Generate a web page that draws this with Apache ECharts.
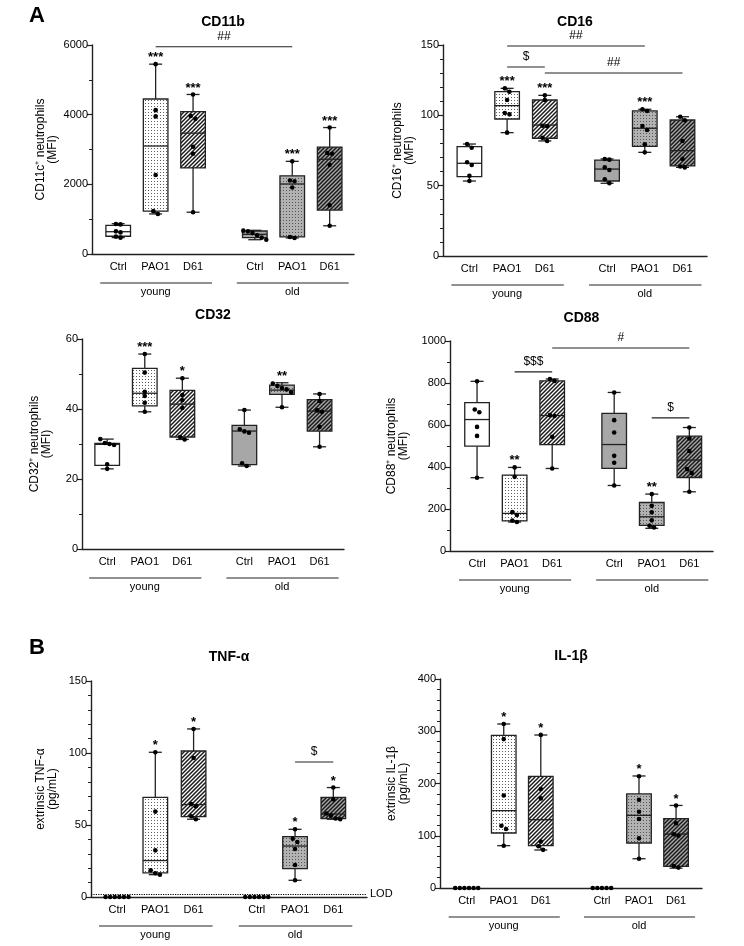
<!DOCTYPE html>
<html>
<head>
<meta charset="utf-8">
<script src="https://cdn.jsdelivr.net/npm/echarts/dist/echarts.min.js"></script>
<style>
  html, body { margin: 0; padding: 0; background: #fff; }
  #chart { width: 744px; height: 946px; }
</style>
</head>
<body>
<div id="chart"></div>
<script>
// ============================================================
// Data
// ============================================================
const treatments = ['Ctrl', 'PAO1', 'D61'];
const ageGroups = ['young', 'old'];
// x position of each box: young Ctrl/PAO1/D61, old Ctrl/PAO1/D61
const catPos = [1, 2, 3, 4.65, 5.65, 6.65];

// box stats: [min, q1, median, q3, max]; null = all below LOD (no box)
const cd11bBoxes = [[470, 510, 640, 820, 870], [1150, 1230, 3100, 4450, 5450], [1200, 2470, 3470, 4090, 4580],
                    [410, 470, 565, 660, 680], [460, 490, 2010, 2245, 2660], [810, 1260, 2720, 3070, 3630]];
const cd11bPoints = [[860, 850, 650, 620, 500, 470], [5450, 4130, 3950, 2270, 1230, 1150], [4580, 3960, 3880, 3080, 2880, 1200],
                     [670, 650, 600, 540, 470, 410], [2660, 2110, 2090, 1910, 490, 460], [3630, 2900, 2880, 2560, 1400, 810]];
const cd11bStars = ['', '***', '***', '', '***', '***'];
const cd11bBrackets = [[1, 4, 5950, '##']];

const cd16Boxes = [[53.3, 56.4, 65.9, 77.7, 79.6], [87.7, 97.4, 106.9, 116.8, 119.2], [81.8, 83.7, 93.1, 110.9, 114.2],
                   [51.7, 53.3, 61.8, 68.2, 69], [73.7, 78, 90.8, 103.1, 104.3], [63, 64, 74.9, 96.7, 99]];
const cd16Points = [[79.6, 77, 66.6, 64.7, 57.1, 53.3], [119.2, 116.8, 110.9, 101.7, 100.7, 87.7], [114.2, 110.9, 92.6, 92.2, 84, 81.8],
                    [69, 68.5, 63, 61.1, 54.5, 51.7], [104.3, 103.1, 92.4, 89.6, 79.4, 73.7], [99, 96.5, 81.8, 69, 63.6, 63]];
const cd16Stars = ['', '***', '***', '', '***', ''];
const cd16Brackets = [[1, 4, 149.3, '##'], [1, 2, 134.4, '$'], [2, 5, 130.1, '##']];

const cd32Boxes = [[22.9, 23.9, 29.9, 30.2, 31.4], [39.2, 40.9, 44.5, 51.6, 55.7], [31.3, 32.0, 41.4, 45.3, 48.8],
                   [23.7, 24.1, 33.7, 35.3, 39.7], [40.5, 44.2, 45.4, 46.8, 47.5], [29.2, 33.7, 39.4, 42.7, 44.3]];
const cd32Points = [[31.4, 30.3, 30.0, 29.7, 24.2, 22.9], [55.7, 50.4, 44.9, 43.7, 41.8, 39.2], [48.8, 44.0, 42.5, 40.3, 32.0, 31.3],
                    [39.7, 34.2, 33.6, 33.2, 24.5, 23.7], [47.3, 46.6, 46.0, 45.6, 44.8, 40.5], [44.3, 42.3, 39.6, 39.2, 34.9, 29.2]];
const cd32Stars = ['', '***', '*', '', '**', ''];
const cd32Brackets = [];

const cd88Boxes = [[349, 499, 626, 707, 808], [138, 143, 179, 361, 398], [393, 507, 645, 810, 819],
                   [312, 393, 507, 655, 755], [108, 122, 163, 231, 271], [282, 350, 433, 547, 588]];
const cd88Points = [[808, 674, 661, 591, 548, 349], [398, 353, 185, 171, 145, 138], [819, 810, 647, 643, 544, 393],
                    [755, 623, 564, 453, 420, 312], [271, 215, 184, 146, 120, 112], [588, 536, 476, 390, 372, 282]];
const cd88Stars = ['', '**', '', '', '**', ''];
const cd88Brackets = [[1, 2, 853, '$$$'], [2, 5, 967, '#'], [4, 5, 634, '$']];

const tnfBoxes = [null, [15.5, 16.7, 25.3, 69.2, 100.5], [54, 55.8, 64.2, 101.4, 116.7],
                  null, [11.6, 19.7, 35.4, 41.9, 47], [54, 54.4, 57.6, 69.2, 76]];
const tnfPoints = [[0, 0, 0, 0, 0, 0], [100.5, 59.3, 32.4, 18.5, 16.5, 15.5], [116.7, 96.5, 64.5, 63, 56, 54],
                   [0, 0, 0, 0, 0, 0], [47, 40.5, 38.2, 33.3, 22.2, 11.6], [76, 67.8, 58, 56.5, 54.5, 54]];
const tnfStars = ['', '*', '*', '', '*', '*'];
const tnfBrackets = [[4, 5, 93.75, '$']];
const tnfLod = 2;

const il1bBoxes = [null, [81, 105.3, 148, 292, 313.9], [72.7, 81, 130.7, 213.6, 292.8],
                   null, [56, 86.1, 139, 180, 214.4], [38, 41.4, 103.3, 132.6, 158]];
const il1bPoints = [[0, 0, 0, 0, 0, 0], [314, 285, 177, 119, 113, 81], [293, 189.5, 171.5, 89, 80, 73],
                    [0, 0, 0, 0, 0], [214, 169, 146, 132, 95, 56], [158, 124, 103, 100, 42, 39]];
const il1bStars = ['', '*', '*', '', '*', '*'];
const il1bBrackets = [];

// ============================================================
// Styles
// ============================================================
const FONT = '"Liberation Sans", Arial, sans-serif';
const INK = '#000';
const EDGE = '#222';

function makePattern(bg, kind, fg) {
  const c = document.createElement('canvas');
  const size = kind === 'dots' ? 3 : 4;
  c.width = size; c.height = size;
  const ctx = c.getContext('2d');
  ctx.fillStyle = bg;
  ctx.fillRect(0, 0, size, size);
  if (kind === 'dots') {
    ctx.fillStyle = fg;
    ctx.fillRect(1, 1, 1, 1);
  } else {
    ctx.strokeStyle = fg;
    ctx.lineWidth = 1.5;
    ctx.beginPath();
    ctx.moveTo(0, 4); ctx.lineTo(4, 0);
    ctx.moveTo(-1, 1); ctx.lineTo(1, -1);
    ctx.moveTo(3, 5); ctx.lineTo(5, 3);
    ctx.stroke();
  }
  return { image: c, repeat: 'repeat' };
}

const boxFills = [
  '#ffffff',
  makePattern('#ffffff', 'dots', '#5e5e5e'),
  makePattern('#ffffff', 'hatch', '#1a1a1a'),
  '#a7a7a7',
  makePattern('#b2b2b2', 'dots', '#555555'),
  makePattern('#a8a8a8', 'hatch', '#1a1a1a'),
];

// panel layout (pixels)
const panels = [
  { title: 'CD11b', yName: 'CD11c⁺ neutrophils\n(MFI)', boxes: cd11bBoxes, points: cd11bPoints, stars: cd11bStars, brackets: cd11bBrackets,
    max: 6000, interval: 2000, minor: 2, left: 92, top: 45, width: 262, height: 209, xMin: 0.3, xMax: 7.3, nameGap: 33, titleY: 22 },
  { title: 'CD16', yName: 'CD16⁺ neutrophils\n(MFI)', boxes: cd16Boxes, points: cd16Points, stars: cd16Stars, brackets: cd16Brackets,
    max: 150, interval: 50, minor: 5, left: 443, top: 45, width: 264, height: 211, xMin: 0.3, xMax: 7.3, nameGap: 27, titleY: 22 },
  { title: 'CD32', yName: 'CD32⁺ neutrophils\n(MFI)', boxes: cd32Boxes, points: cd32Points, stars: cd32Stars, brackets: cd32Brackets,
    max: 60, interval: 20, minor: 2, left: 82, top: 339, width: 262, height: 210, xMin: 0.33, xMax: 7.3, nameGap: 29, titleY: 315 },
  { title: 'CD88', yName: 'CD88⁺ neutrophils\n(MFI)', boxes: cd88Boxes, points: cd88Points, stars: cd88Stars, brackets: cd88Brackets,
    max: 1000, interval: 200, minor: 2, left: 450, top: 341, width: 263, height: 210, xMin: 0.28, xMax: 7.28, nameGap: 40, titleY: 318 },
  { title: 'TNF-α', yName: 'extrinsic TNF-α\n(pg/mL)', boxes: tnfBoxes, points: tnfPoints, stars: tnfStars, brackets: tnfBrackets,
    max: 150, interval: 50, minor: 5, left: 91, top: 681, width: 276, height: 216, xMin: 0.32, xMax: 7.53, nameGap: 32, titleY: 657, lod: tnfLod },
  { title: 'IL-1β', yName: 'extrinsic IL-1β\n(pg/mL)', boxes: il1bBoxes, points: il1bPoints, stars: il1bStars, brackets: il1bBrackets,
    max: 400, interval: 100, minor: 5, left: 440, top: 679, width: 262, height: 209, xMin: 0.28, xMax: 7.35, nameGap: 30, titleY: 656 },
];

// ============================================================
// Helpers
// ============================================================
function seg(x1, y1, x2, y2, w) {
  return { type: 'line', shape: { x1, y1, x2, y2 }, style: { stroke: EDGE, lineWidth: w || 1.3 } };
}
function label(x, y, text, size, weight) {
  return { type: 'text', style: { text, x, y, align: 'center', verticalAlign: 'middle',
    fontSize: size, fontFamily: FONT, fontWeight: weight || 'normal', fill: INK } };
}

const BOX_HALF = 12.3;
const CAP_HALF = 6.5;
const DOT_GAP = 4.6;

function boxSeries(p, k) {
  return {
    type: 'custom', xAxisIndex: k, yAxisIndex: k, silent: true, animation: false,
    encode: { x: 0, y: [1, 2, 3, 4, 5] },
    data: p.boxes.map((b, i) => b ? [catPos[i], ...b, i, 1] : [catPos[i], 0, 0, 0, 0, 0, i, 0]),
    renderItem(params, api) {
      const x = api.value(0);
      const i = api.value(6);
      const cx = api.coord([x, 0])[0];
      const kids = [];
      if (api.value(7)) {
        const py = n => api.coord([x, api.value(n)])[1];
        const yMin = py(1), yQ1 = py(2), yMed = py(3), yQ3 = py(4), yMax = py(5);
        kids.push(seg(cx, yQ3, cx, yMax), seg(cx, yQ1, cx, yMin),
                  seg(cx - CAP_HALF, yMax, cx + CAP_HALF, yMax), seg(cx - CAP_HALF, yMin, cx + CAP_HALF, yMin));
        kids.push({ type: 'rect', shape: { x: cx - BOX_HALF, y: yQ3, width: 2 * BOX_HALF, height: yQ1 - yQ3 },
                    style: { fill: boxFills[i], stroke: EDGE, lineWidth: 1.3 } });
        kids.push(seg(cx - BOX_HALF, yMed, cx + BOX_HALF, yMed));
        if (p.stars[i]) kids.push(label(cx, yMax - 6.5, p.stars[i], 13, 'bold'));
      }
      // points: spread overlapping ones sideways
      const vals = p.points[i];
      const ys = vals.map(v => api.coord([x, v])[1]);
      const order = ys.map((_, j) => j).sort((a, b) => ys[a] - ys[b]);
      const clusters = [];
      let cur = [];
      order.forEach(j => {
        if (cur.length && ys[j] - ys[cur[cur.length - 1]] > 4) { clusters.push(cur); cur = []; }
        cur.push(j);
      });
      if (cur.length) clusters.push(cur);
      clusters.forEach(cl => cl.forEach((j, m) => {
        kids.push({ type: 'circle', shape: { cx: cx + (m - (cl.length - 1) / 2) * DOT_GAP, cy: ys[j], r: 2.3 },
                    style: { fill: INK } });
      }));
      return { type: 'group', children: kids };
    },
  };
}

function bracketSeries(p, k) {
  return {
    type: 'custom', xAxisIndex: k, yAxisIndex: k, silent: true, animation: false,
    encode: { x: [0, 1], y: 2 },
    data: p.brackets.map(b => [catPos[b[0]], catPos[b[1]], b[2]]),
    renderItem(params, api) {
      const a = api.coord([api.value(0), api.value(2)]);
      const b = api.coord([api.value(1), api.value(2)]);
      return { type: 'group', children: [
        seg(a[0], a[1], b[0], b[1], 1.1),
        label((a[0] + b[0]) / 2, a[1] - 10, p.brackets[params.dataIndex][3], 12),
      ] };
    },
  };
}

function xLabelSeries(p, k) {
  return {
    type: 'custom', xAxisIndex: k, yAxisIndex: k, silent: true, animation: false,
    encode: { x: 0, y: 1 },
    data: catPos.map((x, i) => [x, 0, i]),
    renderItem(params, api) {
      const i = api.value(2);
      const pt = api.coord([api.value(0), 0]);
      const kids = [label(pt[0], pt[1] + 13, treatments[i % 3], 11)];
      if (i % 3 === 1) {
        const g = (i - 1) / 3;
        const a = api.coord([catPos[g * 3], 0]);
        const b = api.coord([catPos[g * 3 + 2], 0]);
        kids.push(seg(a[0] - 18, pt[1] + 29, b[0] + 19, pt[1] + 29, 1));
        kids.push(label(pt[0], pt[1] + 38, ageGroups[g], 11));
      }
      return { type: 'group', children: kids };
    },
  };
}

// ============================================================
// Build option
// ============================================================
const grid = [], xAxis = [], yAxis = [], series = [], graphic = [];

panels.forEach((p, k) => {
  grid.push({ left: p.left, top: p.top, width: p.width, height: p.height });
  xAxis.push({
    gridIndex: k, type: 'value', min: p.xMin, max: p.xMax,
    axisLine: { show: true, onZero: false, lineStyle: { color: EDGE, width: 1.4 } },
    axisTick: { show: false }, axisLabel: { show: false }, splitLine: { show: false },
  });
  yAxis.push({
    gridIndex: k, type: 'value', min: 0, max: p.max, interval: p.interval,
    axisLine: { show: true, onZero: false, lineStyle: { color: EDGE, width: 1.4 } },
    axisTick: { show: true, length: 5, lineStyle: { color: EDGE, width: 1.2 } },
    minorTick: { show: true, splitNumber: p.minor, length: 3, lineStyle: { color: EDGE, width: 1 } },
    axisLabel: { color: INK, fontSize: 11, fontFamily: FONT, margin: 4, formatter: v => String(v) },
    splitLine: { show: false },
    name: p.yName, nameLocation: 'middle', nameRotate: 90, nameGap: p.nameGap,
    nameTextStyle: { color: INK, fontSize: 12, fontFamily: FONT, lineHeight: 12 },
  });
  series.push(boxSeries(p, k), bracketSeries(p, k), xLabelSeries(p, k));
  if (p.lod !== undefined) {
    series.push({
      type: 'line', xAxisIndex: k, yAxisIndex: k, data: [], silent: true,
      markLine: {
        silent: true, symbol: 'none', animation: false,
        lineStyle: { color: INK, type: 'dotted', width: 1.2 },
        label: { show: true, position: 'end', formatter: 'LOD', color: INK, fontSize: 11, fontFamily: FONT, distance: 3 },
        data: [{ yAxis: p.lod }],
      },
    });
  }
  graphic.push({ type: 'text', silent: true, style: { text: p.title, x: p.left + p.width / 2, y: p.titleY,
    align: 'center', verticalAlign: 'middle', textAlign: 'center', textVerticalAlign: 'middle',
    font: 'bold 14px ' + FONT, fill: INK } });
});

graphic.push({ type: 'text', silent: true, style: { text: 'A', x: 29, y: 16, align: 'left', verticalAlign: 'middle',
  textAlign: 'left', textVerticalAlign: 'middle', font: 'bold 22px ' + FONT, fill: INK } });
graphic.push({ type: 'text', silent: true, style: { text: 'B', x: 29, y: 648, align: 'left', verticalAlign: 'middle',
  textAlign: 'left', textVerticalAlign: 'middle', font: 'bold 22px ' + FONT, fill: INK } });

const chart = echarts.init(document.getElementById('chart'), null, { renderer: 'canvas' });
chart.setOption({
  backgroundColor: '#ffffff',
  animation: false,
  grid, xAxis, yAxis, series, graphic,
});
</script>
</body>
</html>
